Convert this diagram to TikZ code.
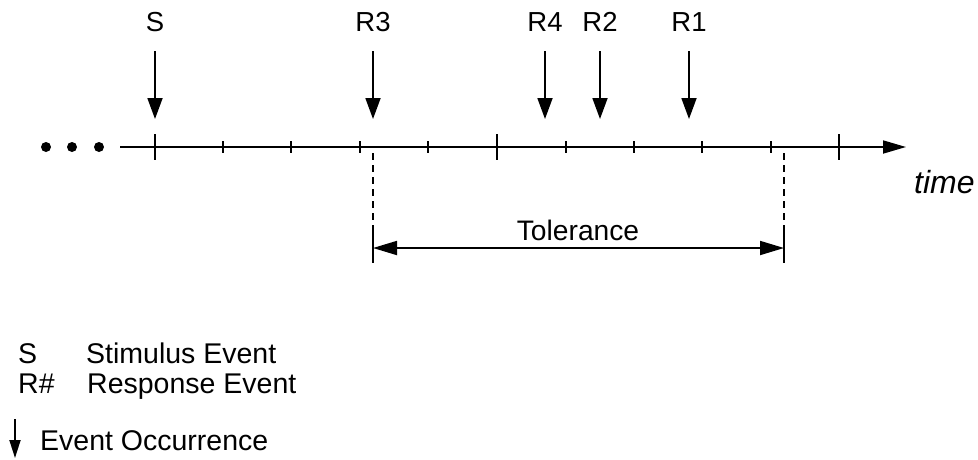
\documentclass[tikz,border=0pt]{standalone}
\usepackage{fontspec}
\setmainfont{Liberation Sans}
\usetikzlibrary{arrows.meta}
\begin{document}
\begin{tikzpicture}[x=1pt,y=-1pt,
  txt/.style={inner sep=0pt,font=\fontsize{27.5}{31}\selectfont},
  legtxt/.style={inner sep=0pt,anchor=base west,font=\fontsize{28.5}{32}\selectfont},
  axisline/.style={line width=1.8pt,-{Triangle[length=23pt,width=13pt]}},
  evarrow/.style={line width=1.8pt,-{Triangle[length=21pt,width=15pt]}},
  tolarrow/.style={line width=1.8pt,{Triangle[length=24pt,width=14pt]}-{Triangle[length=24pt,width=14pt]}},
  tickline/.style={line width=1.8pt},
  dashline/.style={line width=1.5pt,dash pattern=on 7pt off 5pt},
  dotmark/.style={circle,fill=black,inner sep=0pt,minimum size=10pt}]
\useasboundingbox (0,0) rectangle (978,459);
% axis
\coordinate (axs) at (120,147);
\coordinate (axe) at (906,147);
\draw[axisline] (axs) -- (axe);
\node[dotmark] (d1) at (46,147) {};
\node[dotmark] (d2) at (72,147) {};
\node[dotmark] (d3) at (99,147) {};
% ticks
\foreach \x in {155,497,839} \draw[tickline] (\x,134) -- (\x,160);
\foreach \x in {223,291,360,428,566,634,702,771} \draw[tickline] (\x,141) -- (\x,153);
\node[txt,anchor=base west,font=\fontsize{32}{36}\selectfont\itshape] (time) at (914,193) {time};
% events
\foreach \n/\x/\l in {s/155/S,r3/373/R3,r4/545/R4,r2/600/R2,r1/689/R1}{
  \node[txt,anchor=base] (\n) at (\x,31) {\l};
  \coordinate (\n top) at (\x,51);
  \coordinate (\n tip) at (\x,119);
  \draw[evarrow] (\n top) -- (\n tip);
}
% tolerance
\coordinate (tl1) at (373,153);
\coordinate (tl2) at (373,228);
\coordinate (tl3) at (373,263);
\coordinate (tr1) at (784,153);
\coordinate (tr2) at (784,228);
\coordinate (tr3) at (784,263);
\coordinate (tal) at (373,248);
\coordinate (tar) at (784,248);
\draw[dashline] (tl1) -- (tl2);
\draw[dashline] (tr1) -- (tr2);
\draw[tickline] (tl2) -- (tl3);
\draw[tickline] (tr2) -- (tr3);
\draw[tolarrow] (tal) -- (tar);
\node[txt,anchor=base,font=\fontsize{28.2}{32}\selectfont] (tol) at (578,240) {Tolerance};
% legend
\node[legtxt] (ls) at (18,363) {S};
\node[legtxt] (lsd) at (86,363) {Stimulus Event};
\node[legtxt] (lr) at (18,393) {R\#};
\node[legtxt] (lrd) at (87,393) {Response Event};
\coordinate (lat) at (15,419);
\coordinate (lab) at (15,458);
\draw[line width=1.8pt,-{Triangle[length=18pt,width=11pt]}] (lat) -- (lab);
\node[legtxt] (le) at (40,450) {Event Occurrence};
\end{tikzpicture}
\end{document}
